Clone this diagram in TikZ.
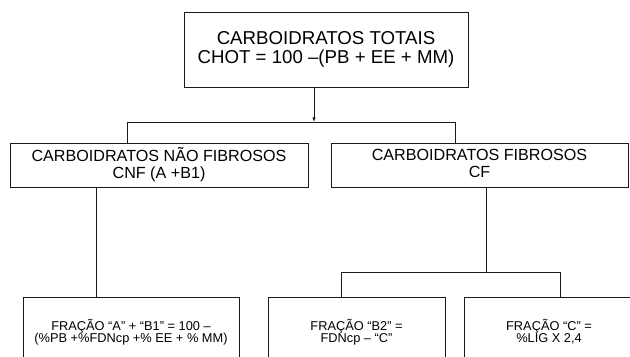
\documentclass[tikz,border=0pt]{standalone}
\usepackage{fontspec}
\setmainfont{Liberation Sans}
\usetikzlibrary{arrows.meta,calc,positioning}
\definecolor{linegray}{HTML}{1A1A1A}

\begin{document}
\begin{tikzpicture}[x=0.75pt,y=-0.75pt,
    box/.style={draw=linegray,line width=0.6pt,align=center,inner sep=0pt},
    topfont/.style={font=\fontsize{14}{14.4}\selectfont},
    midfont/.style={font=\fontsize{12.1}{12.8}\selectfont},
    botfont/.style={font=\fontsize{9.6}{9.2}\selectfont},
    link/.style={draw=linegray,line width=0.6pt}]
    \clip (0,0) rectangle (630,356);
    \node[box,topfont,minimum width=213pt,minimum height=56.25pt] (chot) at (326,49.5)
      {CARBOIDRATOS TOTAIS\\CHOT = 100 –(PB + EE + MM)};
    \node[box,midfont,minimum width=223.5pt,minimum height=33pt,text depth=3pt] (cnf) at (159,165)
      {CARBOIDRATOS NÃO FIBROSOS\\CNF (A +B1)};
    \node[box,midfont,minimum width=222.75pt,minimum height=33pt,text depth=3pt] (cf) at (479.5,165)
      {CARBOIDRATOS FIBROSOS\\CF};
    \node[box,botfont,minimum width=162pt,minimum height=52.5pt] (fracab) at (131,332)
      {FRAÇÃO “A” + “B1” = 100 –\\(\%PB +\%FDNcp +\% EE + \% MM)};
    \node[box,botfont,minimum width=132.75pt,minimum height=52.5pt] (fracb) at (356.5,332)
      {FRAÇÃO “B2” =\\FDNcp – “C”};
    \node[box,botfont,minimum width=127.5pt,minimum height=52.5pt] (fracc) at (549,332)
      {FRAÇÃO “C” =\\\%LIG X 2,4};
    % connectors
    \coordinate (bus) at (314,122);
    \coordinate (busl) at (127,122);
    \coordinate (busr) at (455,122);
    \coordinate (dropl) at (96,240);
    \coordinate (fork) at (486,272);
    \coordinate (forkl) at (341,272);
    \coordinate (forkr) at (560,272);
    \draw[link,-{Latex[length=3.5pt,width=2.5pt]}] (chot.south -| bus) -- (bus);
    \draw[link] (cnf.north -| busl) -- (busl) -- (busr) -- (cf.north -| busr);
    \draw[link] (cnf.south -| dropl) -- (fracab.north -| dropl);
    \draw[link] (cf.south -| fork) -- (fork);
    \draw[link] (fracb.north -| forkl) -- (forkl) -- (forkr) -- (fracc.north -| forkr);
\end{tikzpicture}
\end{document}
